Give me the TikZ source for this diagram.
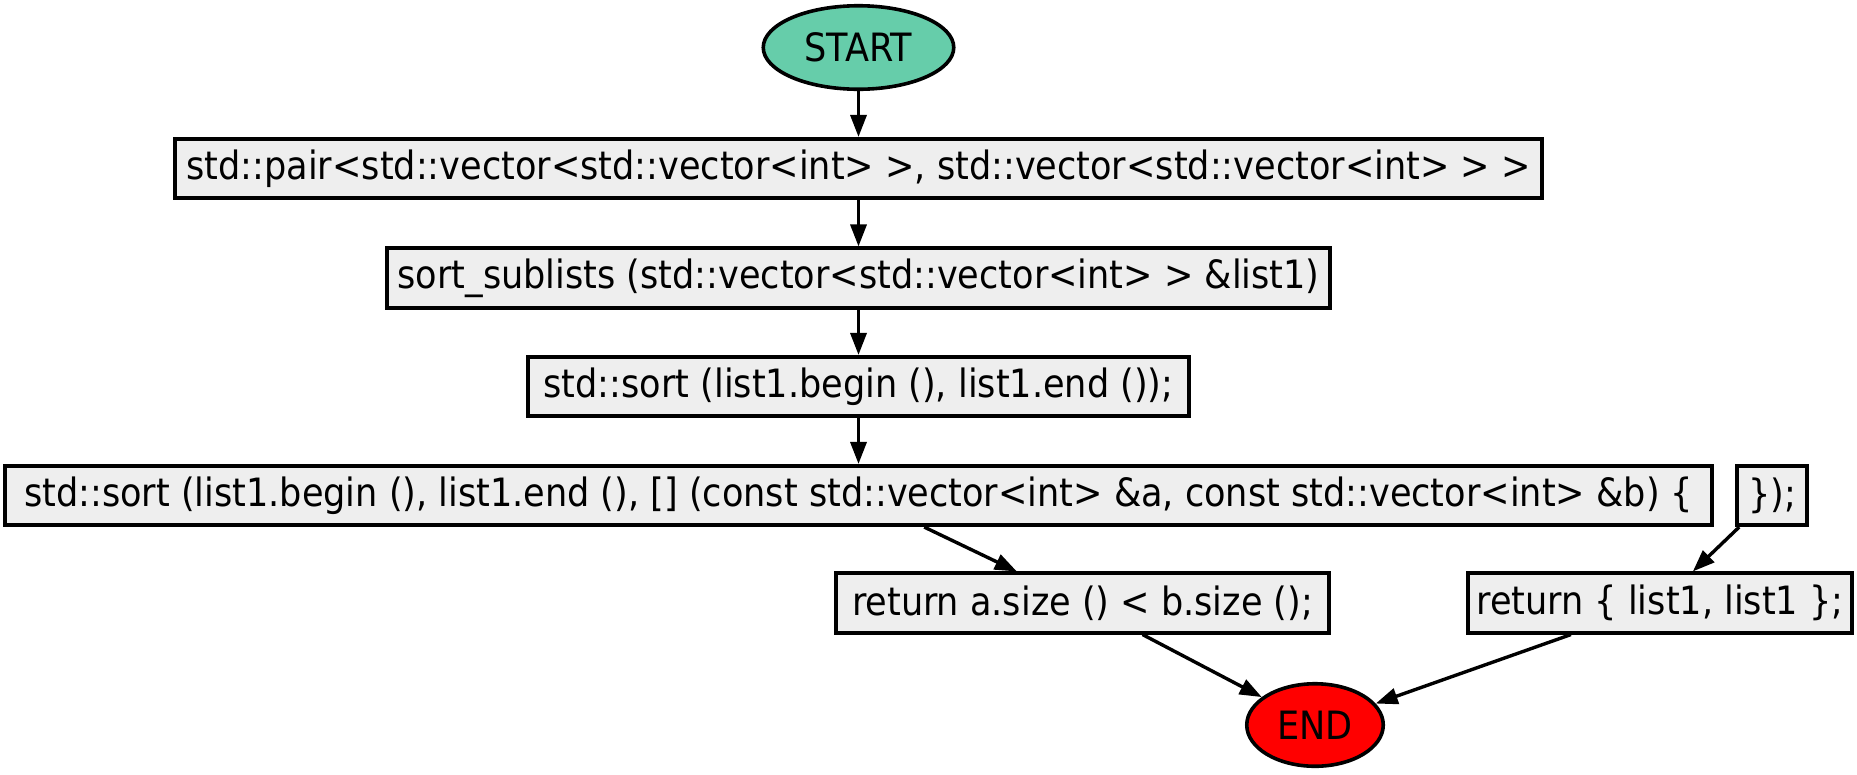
\documentclass[tikz,border=0pt]{standalone}
\usepackage{fontspec}
\setmainfont{DejaVu Sans Condensed}
\usetikzlibrary{arrows.meta,shapes.geometric}
\definecolor{boxfill}{HTML}{EEEEEE}
\definecolor{startfill}{HTML}{66CDAA}
\definecolor{endfill}{HTML}{FF0000}
\begin{document}
\begin{tikzpicture}[x=1pt,y=-1pt,
  every node/.style={font=\fontsize{39}{47}\selectfont, line width=3.6pt, draw=black, inner sep=0pt},
  codebox/.style={rectangle, fill=boxfill, minimum height=59.5pt},
  term/.style={ellipse},
  conn/.style={line width=3.4pt, -{Triangle[length=22pt,width=16pt]}}]
\useasboundingbox (0,0) rectangle (1857,774);
\node[term, fill=startfill, minimum width=190.5pt, minimum height=83.5pt] (start) at (858.5,47.5) {START};
\node[codebox, minimum width=1366.5pt] (b1) at (858.5,168.5) {std::pair<std::vector<std::vector<int> >, std::vector<std::vector<int> > >};
\node[codebox, minimum width=943.5pt] (b2) at (858.5,278) {sort\_sublists (std::vector<std::vector<int> > \&list1)};
\node[codebox, minimum width=660.5pt] (b3) at (858.5,386.5) {std::sort (list1.begin (), list1.end ());};
\node[codebox, minimum width=1706.5pt] (b4) at (858.5,495.5) {std::sort (list1.begin (), list1.end (), [] (const std::vector<int> \&a, const std::vector<int> \&b) \{};
\node[codebox, minimum width=70.5pt] (b5) at (1772,495.5) {\});};
\node[codebox, minimum width=493.5pt] (b6) at (1082.5,603) {return a.size () < b.size ();};
\node[codebox, minimum width=384.5pt] (b7) at (1660,603) {return \{ list1, list1 \};};
\node[term, fill=endfill, minimum width=136.5pt, minimum height=82.5pt] (end) at (1315,725) {END};
\draw[conn] (start) -- (b1);
\draw[conn] (b1) -- (b2);
\draw[conn] (b2) -- (b3);
\draw[conn] (b3) -- (b4);
\draw[conn] (b4) -- (b6);
\draw[conn] (b5) -- (b7);
\draw[conn] (b6) -- (end);
\draw[conn] (b7) -- (end);
\end{tikzpicture}
\end{document}
